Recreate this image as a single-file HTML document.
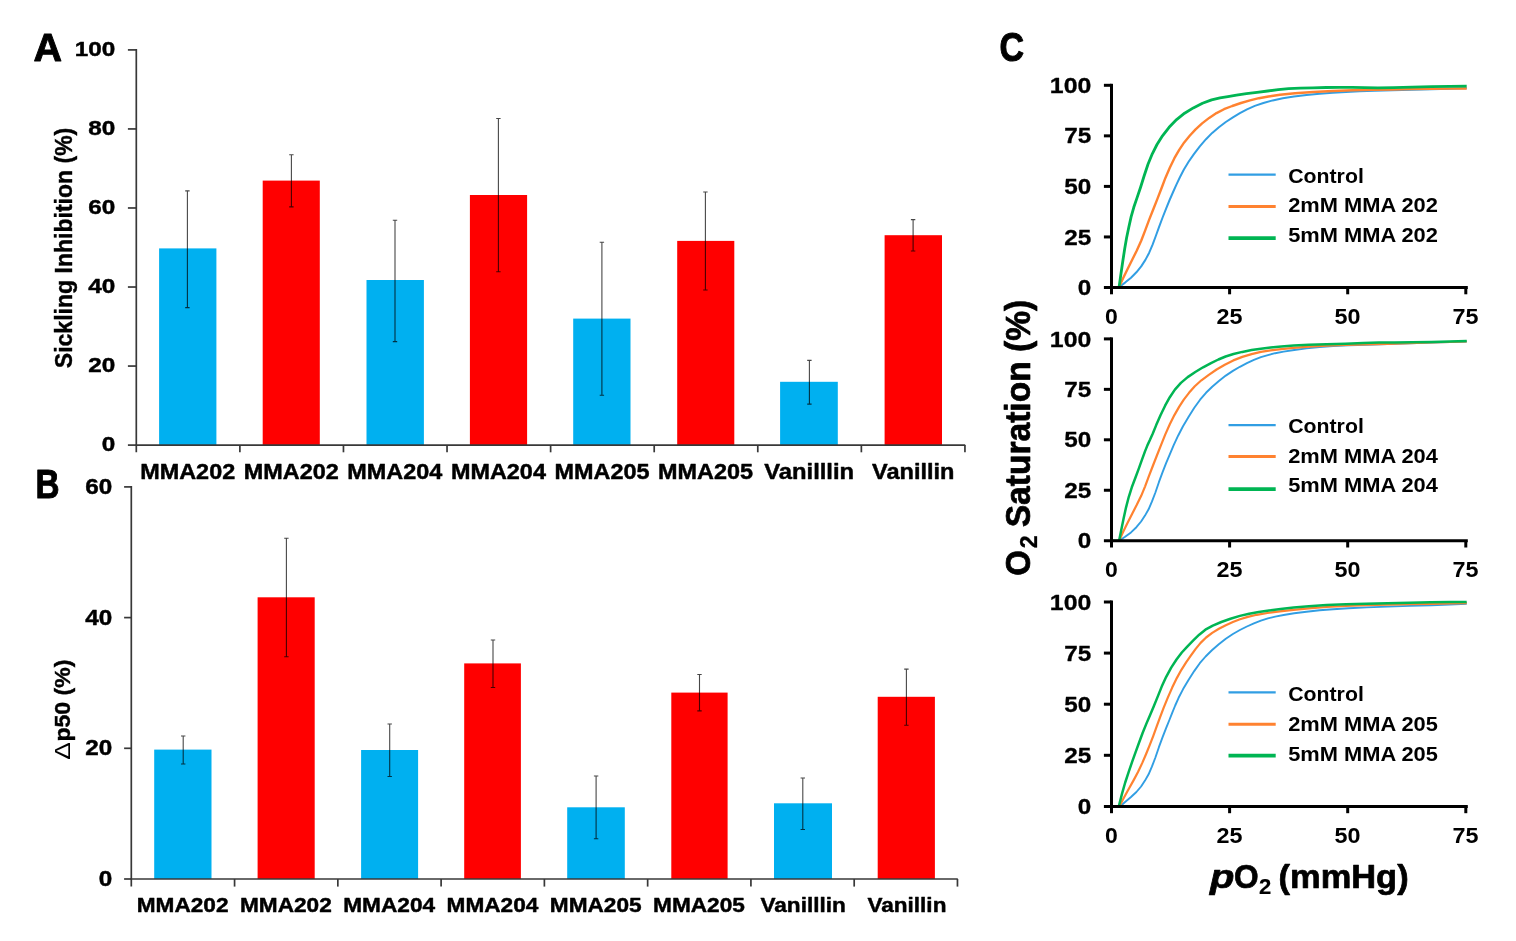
<!DOCTYPE html>
<html lang="en"><head><meta charset="utf-8"><title>Figure</title>
<style>html,body{margin:0;padding:0;background:#fff;overflow:hidden}body{width:1516px;height:941px;position:relative}</style></head>
<body>
<svg width="1516" height="941" viewBox="0 0 1516 941" font-family="Liberation Sans, Arial, Helvetica, sans-serif" style="display:block;position:absolute;left:0;top:0;filter:blur(0.45px)">
<rect width="1516" height="941" fill="#fff"/>
<rect x="159.1" y="248.4" width="57.30" height="196.70" fill="#00B0F0"/>
<rect x="262.7" y="180.6" width="57.10" height="264.50" fill="#FF0000"/>
<rect x="366.5" y="280.0" width="57.40" height="165.10" fill="#00B0F0"/>
<rect x="469.9" y="195.0" width="57.20" height="250.10" fill="#FF0000"/>
<rect x="573.2" y="318.6" width="57.30" height="126.50" fill="#00B0F0"/>
<rect x="677.2" y="240.9" width="57.10" height="204.20" fill="#FF0000"/>
<rect x="780.1" y="381.8" width="57.70" height="63.30" fill="#00B0F0"/>
<rect x="884.6" y="235.2" width="57.40" height="209.90" fill="#FF0000"/>
<g stroke="#383838" stroke-width="1.7" fill="none">
<path d="M136.3 49.05 V452.3"/>
<path d="M135.45000000000002 445.1 H965.2"/>
<path d="M239.88 445.1 V452.3"/>
<path d="M343.46 445.1 V452.3"/>
<path d="M447.04 445.1 V452.3"/>
<path d="M550.62 445.1 V452.3"/>
<path d="M654.20 445.1 V452.3"/>
<path d="M757.78 445.1 V452.3"/>
<path d="M861.36 445.1 V452.3"/>
<path d="M964.94 445.1 V452.3"/>
<path d="M127.9 445.1 H136.3"/>
<path d="M127.9 366.06 H136.3"/>
<path d="M127.9 287.02 H136.3"/>
<path d="M127.9 207.98 H136.3"/>
<path d="M127.9 128.94 H136.3"/>
<path d="M127.9 49.9 H136.3"/>
</g>
<g stroke="#000" stroke-opacity="0.72" stroke-width="1.1" fill="none">
<path d="M187.4 190.9 V307.6 M185.20000000000002 190.9 H189.6 M185.20000000000002 307.6 H189.6"/>
<path d="M291.4 154.8 V206.9 M289.2 154.8 H293.59999999999997 M289.2 206.9 H293.59999999999997"/>
<path d="M395.0 220.3 V341.6 M392.8 220.3 H397.2 M392.8 341.6 H397.2"/>
<path d="M498.4 118.5 V271.7 M496.2 118.5 H500.59999999999997 M496.2 271.7 H500.59999999999997"/>
<path d="M601.9 242.3 V395.3 M599.6999999999999 242.3 H604.1 M599.6999999999999 395.3 H604.1"/>
<path d="M705.4 192.0 V290.0 M703.1999999999999 192.0 H707.6 M703.1999999999999 290.0 H707.6"/>
<path d="M809.4 360.4 V404.1 M807.1999999999999 360.4 H811.6 M807.1999999999999 404.1 H811.6"/>
<path d="M913.1 219.6 V251.0 M910.9 219.6 H915.3000000000001 M910.9 251.0 H915.3000000000001"/>
</g>
<text x="115.3" y="451.3" font-size="21.0" font-weight="bold" text-anchor="end" fill="#000" textLength="13.5" lengthAdjust="spacingAndGlyphs" stroke="#000" stroke-width="0.45" stroke-linejoin="round" >0</text>
<text x="115.3" y="372.26" font-size="21.0" font-weight="bold" text-anchor="end" fill="#000" textLength="27" lengthAdjust="spacingAndGlyphs" stroke="#000" stroke-width="0.45" stroke-linejoin="round" >20</text>
<text x="115.3" y="293.22" font-size="21.0" font-weight="bold" text-anchor="end" fill="#000" textLength="27" lengthAdjust="spacingAndGlyphs" stroke="#000" stroke-width="0.45" stroke-linejoin="round" >40</text>
<text x="115.3" y="214.18" font-size="21.0" font-weight="bold" text-anchor="end" fill="#000" textLength="27" lengthAdjust="spacingAndGlyphs" stroke="#000" stroke-width="0.45" stroke-linejoin="round" >60</text>
<text x="115.3" y="135.14" font-size="21.0" font-weight="bold" text-anchor="end" fill="#000" textLength="27" lengthAdjust="spacingAndGlyphs" stroke="#000" stroke-width="0.45" stroke-linejoin="round" >80</text>
<text x="115.3" y="56.1" font-size="21.0" font-weight="bold" text-anchor="end" fill="#000" textLength="40.5" lengthAdjust="spacingAndGlyphs" stroke="#000" stroke-width="0.45" stroke-linejoin="round" >100</text>
<text x="187.69" y="478.7" font-size="21.3" font-weight="bold" text-anchor="middle" fill="#000" textLength="95" lengthAdjust="spacingAndGlyphs" stroke="#000" stroke-width="0.45" stroke-linejoin="round" >MMA202</text>
<text x="291.27" y="478.7" font-size="21.3" font-weight="bold" text-anchor="middle" fill="#000" textLength="95" lengthAdjust="spacingAndGlyphs" stroke="#000" stroke-width="0.45" stroke-linejoin="round" >MMA202</text>
<text x="394.85" y="478.7" font-size="21.3" font-weight="bold" text-anchor="middle" fill="#000" textLength="95" lengthAdjust="spacingAndGlyphs" stroke="#000" stroke-width="0.45" stroke-linejoin="round" >MMA204</text>
<text x="498.43" y="478.7" font-size="21.3" font-weight="bold" text-anchor="middle" fill="#000" textLength="95" lengthAdjust="spacingAndGlyphs" stroke="#000" stroke-width="0.45" stroke-linejoin="round" >MMA204</text>
<text x="602.01" y="478.7" font-size="21.3" font-weight="bold" text-anchor="middle" fill="#000" textLength="95" lengthAdjust="spacingAndGlyphs" stroke="#000" stroke-width="0.45" stroke-linejoin="round" >MMA205</text>
<text x="705.59" y="478.7" font-size="21.3" font-weight="bold" text-anchor="middle" fill="#000" textLength="95" lengthAdjust="spacingAndGlyphs" stroke="#000" stroke-width="0.45" stroke-linejoin="round" >MMA205</text>
<text x="809.17" y="478.7" font-size="21.3" font-weight="bold" text-anchor="middle" fill="#000" textLength="90" lengthAdjust="spacingAndGlyphs" stroke="#000" stroke-width="0.45" stroke-linejoin="round" >Vanilllin</text>
<text x="913.25" y="478.7" font-size="21.3" font-weight="bold" text-anchor="middle" fill="#000" textLength="82.4" lengthAdjust="spacingAndGlyphs" stroke="#000" stroke-width="0.45" stroke-linejoin="round" >Vanillin</text>
<rect x="154.2" y="749.6" width="57.30" height="129.40" fill="#00B0F0"/>
<rect x="257.6" y="597.3" width="57.10" height="281.70" fill="#FF0000"/>
<rect x="361.1" y="750.0" width="57.00" height="129.00" fill="#00B0F0"/>
<rect x="464.2" y="663.4" width="56.70" height="215.60" fill="#FF0000"/>
<rect x="567.2" y="807.3" width="57.60" height="71.70" fill="#00B0F0"/>
<rect x="671.3" y="692.6" width="56.30" height="186.40" fill="#FF0000"/>
<rect x="774.0" y="803.3" width="58.00" height="75.70" fill="#00B0F0"/>
<rect x="877.7" y="696.8" width="57.20" height="182.20" fill="#FF0000"/>
<g stroke="#383838" stroke-width="1.7" fill="none">
<path d="M131.3 486.04999999999995 V886.6"/>
<path d="M130.45000000000002 879.0 H957.8"/>
<path d="M234.57 879.0 V886.6"/>
<path d="M337.84 879.0 V886.6"/>
<path d="M441.11 879.0 V886.6"/>
<path d="M544.38 879.0 V886.6"/>
<path d="M647.65 879.0 V886.6"/>
<path d="M750.92 879.0 V886.6"/>
<path d="M854.19 879.0 V886.6"/>
<path d="M957.46 879.0 V886.6"/>
<path d="M124.10000000000001 879.0 H131.3"/>
<path d="M124.10000000000001 748.3 H131.3"/>
<path d="M124.10000000000001 617.6 H131.3"/>
<path d="M124.10000000000001 486.9 H131.3"/>
</g>
<g stroke="#000" stroke-opacity="0.72" stroke-width="1.1" fill="none">
<path d="M183.2 736.0 V764.0 M181.0 736.0 H185.39999999999998 M181.0 764.0 H185.39999999999998"/>
<path d="M286.4 538.3 V656.7 M284.2 538.3 H288.59999999999997 M284.2 656.7 H288.59999999999997"/>
<path d="M389.7 724.0 V776.5 M387.5 724.0 H391.9 M387.5 776.5 H391.9"/>
<path d="M493.0 640.0 V687.5 M490.8 640.0 H495.2 M490.8 687.5 H495.2"/>
<path d="M596.1 776.0 V838.7 M593.9 776.0 H598.3000000000001 M593.9 838.7 H598.3000000000001"/>
<path d="M699.5 674.5 V710.9 M697.3 674.5 H701.7 M697.3 710.9 H701.7"/>
<path d="M802.8 778.0 V829.5 M800.5999999999999 778.0 H805.0 M800.5999999999999 829.5 H805.0"/>
<path d="M906.4 669.1 V725.2 M904.1999999999999 669.1 H908.6 M904.1999999999999 725.2 H908.6"/>
</g>
<text x="112.2" y="886.0" font-size="21.3" font-weight="bold" text-anchor="end" fill="#000" textLength="13.5" lengthAdjust="spacingAndGlyphs" stroke="#000" stroke-width="0.45" stroke-linejoin="round" >0</text>
<text x="112.2" y="755.3" font-size="21.3" font-weight="bold" text-anchor="end" fill="#000" textLength="27" lengthAdjust="spacingAndGlyphs" stroke="#000" stroke-width="0.45" stroke-linejoin="round" >20</text>
<text x="112.2" y="624.6" font-size="21.3" font-weight="bold" text-anchor="end" fill="#000" textLength="27" lengthAdjust="spacingAndGlyphs" stroke="#000" stroke-width="0.45" stroke-linejoin="round" >40</text>
<text x="112.2" y="493.9" font-size="21.3" font-weight="bold" text-anchor="end" fill="#000" textLength="27" lengthAdjust="spacingAndGlyphs" stroke="#000" stroke-width="0.45" stroke-linejoin="round" >60</text>
<text x="182.63" y="912.2" font-size="20.2" font-weight="bold" text-anchor="middle" fill="#000" textLength="91.8" lengthAdjust="spacingAndGlyphs" stroke="#000" stroke-width="0.45" stroke-linejoin="round" >MMA202</text>
<text x="285.91" y="912.2" font-size="20.2" font-weight="bold" text-anchor="middle" fill="#000" textLength="91.8" lengthAdjust="spacingAndGlyphs" stroke="#000" stroke-width="0.45" stroke-linejoin="round" >MMA202</text>
<text x="389.18" y="912.2" font-size="20.2" font-weight="bold" text-anchor="middle" fill="#000" textLength="91.8" lengthAdjust="spacingAndGlyphs" stroke="#000" stroke-width="0.45" stroke-linejoin="round" >MMA204</text>
<text x="492.44" y="912.2" font-size="20.2" font-weight="bold" text-anchor="middle" fill="#000" textLength="91.8" lengthAdjust="spacingAndGlyphs" stroke="#000" stroke-width="0.45" stroke-linejoin="round" >MMA204</text>
<text x="595.72" y="912.2" font-size="20.2" font-weight="bold" text-anchor="middle" fill="#000" textLength="91.8" lengthAdjust="spacingAndGlyphs" stroke="#000" stroke-width="0.45" stroke-linejoin="round" >MMA205</text>
<text x="698.99" y="912.2" font-size="20.2" font-weight="bold" text-anchor="middle" fill="#000" textLength="91.8" lengthAdjust="spacingAndGlyphs" stroke="#000" stroke-width="0.45" stroke-linejoin="round" >MMA205</text>
<text x="803.16" y="912.2" font-size="20.2" font-weight="bold" text-anchor="middle" fill="#000" textLength="85.4" lengthAdjust="spacingAndGlyphs" stroke="#000" stroke-width="0.45" stroke-linejoin="round" >Vanilllin</text>
<text x="906.93" y="912.2" font-size="20.2" font-weight="bold" text-anchor="middle" fill="#000" textLength="79" lengthAdjust="spacingAndGlyphs" stroke="#000" stroke-width="0.45" stroke-linejoin="round" >Vanillin</text>
<text x="33.4" y="61.0" font-size="39.5" font-weight="bold" text-anchor="start" fill="#000" stroke="#000" stroke-width="0.9" stroke-linejoin="round" >A</text>
<text x="35.6" y="497.6" font-size="40" font-weight="bold" text-anchor="start" fill="#000" textLength="24.0" lengthAdjust="spacingAndGlyphs" stroke="#000" stroke-width="1.0" stroke-linejoin="round" >B</text>
<text x="999.4" y="61.4" font-size="40.5" font-weight="bold" text-anchor="start" fill="#000" textLength="24.6" lengthAdjust="spacingAndGlyphs" stroke="#000" stroke-width="1.0" stroke-linejoin="round" >C</text>
<text transform="translate(71.9,368.2) rotate(-90)" font-size="23" font-weight="bold" stroke="#000" stroke-width="0.4" textLength="240.5" lengthAdjust="spacingAndGlyphs">Sickling Inhibition (%)</text>
<text transform="translate(70.2,759.8) rotate(-90)" font-size="21.8" font-weight="normal" textLength="17.6" lengthAdjust="spacingAndGlyphs">Δ</text>
<text transform="translate(70.2,741.6) rotate(-90)" font-size="21.8" font-weight="bold" textLength="82" lengthAdjust="spacingAndGlyphs" stroke="#000" stroke-width="0.4">p50 (%)</text>
<path d="M1119.1 287.0 L1125.1 282.6 L1131.0 277.7 L1136.4 272.3 L1141.2 266.4 L1145.4 259.9 L1149.2 252.7 L1152.6 244.7 L1155.8 236.0 L1159.1 226.8 L1162.6 217.5 L1166.1 208.6 L1169.6 200.0 L1173.1 192.0 L1176.4 184.6 L1179.9 177.2 L1183.9 169.5 L1188.6 161.8 L1193.9 154.1 L1199.8 146.3 L1206.0 139.2 L1212.2 132.9 L1218.9 127.2 L1225.8 122.0 L1232.9 117.3 L1239.9 113.1 L1247.0 109.3 L1254.8 105.9 L1263.4 103.0 L1272.7 100.4 L1282.8 98.3 L1294.0 96.5 L1306.5 95.0 L1319.6 93.8 L1332.8 92.8 L1346.0 92.0 L1359.6 91.3 L1374.8 90.7 L1392.5 90.2 L1411.9 89.8 L1431.4 89.3 L1449.8 88.7 L1466.7 88.2" fill="none" stroke="#319EE3" stroke-width="2.0" stroke-linejoin="round"/>
<path d="M1119.1 287.0 L1123.2 278.0 L1127.6 268.9 L1132.2 259.8 L1136.8 250.5 L1141.2 240.7 L1145.1 230.6 L1149.0 220.1 L1153.3 209.3 L1157.5 198.6 L1161.5 188.3 L1165.4 177.9 L1169.8 167.7 L1174.4 158.2 L1179.2 149.8 L1184.2 142.4 L1189.7 135.8 L1195.6 129.4 L1202.1 123.4 L1209.2 117.9 L1216.5 113.1 L1224.0 109.2 L1232.2 106.0 L1241.0 103.0 L1250.0 100.4 L1258.9 98.2 L1268.4 96.5 L1280.0 94.8 L1295.1 93.3 L1313.2 92.0 L1332.8 91.0 L1352.6 90.3 L1372.3 89.8 L1392.1 89.5 L1411.9 89.1 L1431.4 88.8 L1449.8 88.6 L1466.7 88.5" fill="none" stroke="#FF8230" stroke-width="2.4" stroke-linejoin="round"/>
<path d="M1119.1 287.0 L1121.0 273.5 L1122.9 260.5 L1124.7 248.7 L1126.6 237.8 L1128.8 227.2 L1131.1 216.9 L1133.8 207.3 L1137.0 197.9 L1140.5 187.5 L1144.1 176.0 L1148.0 164.3 L1152.3 153.8 L1157.0 144.5 L1162.5 135.8 L1169.1 127.3 L1176.6 119.6 L1184.6 113.2 L1193.3 107.9 L1202.5 103.3 L1211.6 99.9 L1220.0 97.9 L1227.9 96.6 L1236.5 95.1 L1246.4 93.6 L1257.0 92.3 L1267.8 91.0 L1278.2 89.6 L1288.6 88.6 L1300.2 88.1 L1313.0 87.8 L1326.2 87.5 L1339.4 87.3 L1352.3 87.4 L1364.8 87.6 L1377.9 87.9 L1393.6 87.7 L1412.1 87.2 L1431.4 86.6 L1449.8 86.3 L1466.7 86.1" fill="none" stroke="#00B553" stroke-width="2.8" stroke-linejoin="round"/>
<g stroke="#000" stroke-width="3" fill="none">
<path d="M1111.5 83.8 V294.3"/>
<path d="M1103.9 287.5 H1467.8"/>
<path d="M1103.9 236.95 H1111.5"/>
<path d="M1103.9 186.40 H1111.5"/>
<path d="M1103.9 135.85 H1111.5"/>
<path d="M1103.9 85.30 H1111.5"/>
<path d="M1229.60 287.5 V294.3"/>
<path d="M1347.70 287.5 V294.3"/>
<path d="M1465.80 287.5 V294.3"/>
</g>
<text x="1091.3" y="295.10" font-size="22.2" font-weight="bold" text-anchor="end" fill="#000" textLength="13.5" lengthAdjust="spacingAndGlyphs" stroke="#000" stroke-width="0.3" stroke-linejoin="round" >0</text>
<text x="1091.3" y="244.55" font-size="22.2" font-weight="bold" text-anchor="end" fill="#000" textLength="27" lengthAdjust="spacingAndGlyphs" stroke="#000" stroke-width="0.3" stroke-linejoin="round" >25</text>
<text x="1091.3" y="194.00" font-size="22.2" font-weight="bold" text-anchor="end" fill="#000" textLength="27" lengthAdjust="spacingAndGlyphs" stroke="#000" stroke-width="0.3" stroke-linejoin="round" >50</text>
<text x="1091.3" y="143.45" font-size="22.2" font-weight="bold" text-anchor="end" fill="#000" textLength="27" lengthAdjust="spacingAndGlyphs" stroke="#000" stroke-width="0.3" stroke-linejoin="round" >75</text>
<text x="1091.3" y="92.90" font-size="22.2" font-weight="bold" text-anchor="end" fill="#000" textLength="41.5" lengthAdjust="spacingAndGlyphs" stroke="#000" stroke-width="0.3" stroke-linejoin="round" >100</text>
<text x="1111.30" y="324.10" font-size="22.2" font-weight="bold" text-anchor="middle" fill="#000" textLength="12.8" lengthAdjust="spacingAndGlyphs" >0</text>
<text x="1229.40" y="324.10" font-size="22.2" font-weight="bold" text-anchor="middle" fill="#000" textLength="26" lengthAdjust="spacingAndGlyphs" >25</text>
<text x="1347.50" y="324.10" font-size="22.2" font-weight="bold" text-anchor="middle" fill="#000" textLength="26" lengthAdjust="spacingAndGlyphs" >50</text>
<text x="1465.60" y="324.10" font-size="22.2" font-weight="bold" text-anchor="middle" fill="#000" textLength="26" lengthAdjust="spacingAndGlyphs" >75</text>
<path d="M1228.5 174.6 H1275.7" stroke="#319EE3" stroke-width="2.3"/>
<text x="1288.2" y="182.6" font-size="20.4" font-weight="bold" text-anchor="start" fill="#000" textLength="75.6" lengthAdjust="spacingAndGlyphs" >Control</text>
<path d="M1228.5 206.5 H1275.7" stroke="#FF8230" stroke-width="3.0"/>
<text x="1288.2" y="212.1" font-size="20.4" font-weight="bold" text-anchor="start" fill="#000" textLength="149.7" lengthAdjust="spacingAndGlyphs" >2mM MMA 202</text>
<path d="M1228.5 238.2 H1275.7" stroke="#00B553" stroke-width="3.8"/>
<text x="1288.2" y="241.8" font-size="20.4" font-weight="bold" text-anchor="start" fill="#000" textLength="149.7" lengthAdjust="spacingAndGlyphs" >5mM MMA 202</text>
<path d="M1119.1 540.8 L1125.1 536.8 L1131.0 532.4 L1136.4 527.2 L1141.1 521.5 L1145.0 515.6 L1148.6 509.3 L1151.9 501.7 L1155.4 492.5 L1158.9 482.2 L1162.6 472.2 L1166.1 463.2 L1169.8 454.4 L1173.7 445.2 L1178.1 435.7 L1183.0 426.2 L1188.5 416.9 L1194.3 407.8 L1200.1 399.7 L1206.0 392.8 L1212.2 386.7 L1218.9 381.0 L1225.8 375.6 L1232.9 370.9 L1239.9 366.8 L1246.9 363.2 L1253.9 359.9 L1260.9 357.2 L1267.9 355.1 L1275.2 353.2 L1283.6 351.6 L1294.2 350.0 L1306.5 348.4 L1319.6 347.0 L1333.2 346.0 L1348.5 345.4 L1366.6 344.7 L1387.6 344.0 L1409.8 343.3 L1431.0 342.6 L1449.8 342.0 L1466.7 341.5" fill="none" stroke="#319EE3" stroke-width="1.9" stroke-linejoin="round"/>
<path d="M1119.1 540.8 L1123.2 531.8 L1127.6 522.8 L1132.2 513.7 L1136.8 504.8 L1141.2 495.8 L1145.1 486.3 L1148.8 476.4 L1152.8 466.0 L1156.9 455.5 L1161.1 444.9 L1165.3 434.4 L1169.8 424.3 L1174.4 415.1 L1179.1 406.9 L1183.8 399.6 L1189.0 392.8 L1194.8 386.3 L1201.4 380.3 L1208.8 374.8 L1216.6 369.5 L1224.8 364.7 L1233.3 360.4 L1242.3 356.9 L1251.6 354.1 L1260.9 351.9 L1270.6 350.4 L1281.3 349.1 L1293.8 347.8 L1308.9 346.6 L1326.6 345.7 L1346.0 345.0 L1366.2 344.4 L1387.6 343.8 L1409.8 343.1 L1431.0 342.5 L1449.8 342.0 L1466.7 341.5" fill="none" stroke="#FF8230" stroke-width="2.2" stroke-linejoin="round"/>
<path d="M1111.8 540.8 L1119.1 540.8 L1121.2 530.2 L1123.5 519.1 L1126.0 507.6 L1128.8 496.8 L1131.8 487.3 L1135.2 478.3 L1138.6 469.1 L1141.9 459.9 L1144.9 451.6 L1147.5 445.1 L1150.0 439.8 L1152.8 433.5 L1156.2 425.1 L1160.5 415.3 L1165.1 405.7 L1169.8 397.2 L1174.9 389.6 L1180.9 382.9 L1187.7 377.1 L1195.3 372.0 L1203.1 367.3 L1211.0 363.1 L1218.4 359.5 L1225.6 356.5 L1233.5 354.0 L1242.3 351.9 L1251.6 350.1 L1260.9 348.8 L1270.6 347.6 L1281.3 346.5 L1293.8 345.5 L1308.9 344.7 L1326.6 344.3 L1345.6 343.8 L1363.3 343.1 L1378.9 342.6 L1394.6 342.4 L1412.3 342.2 L1431.4 341.9 L1449.8 341.5 L1466.7 341.1" fill="none" stroke="#00B553" stroke-width="2.5" stroke-linejoin="round"/>
<g stroke="#000" stroke-width="3" fill="none">
<path d="M1111.5 337.4 V547.5"/>
<path d="M1103.9 540.7 H1467.8"/>
<path d="M1103.9 490.25 H1111.5"/>
<path d="M1103.9 439.80 H1111.5"/>
<path d="M1103.9 389.35 H1111.5"/>
<path d="M1103.9 338.90 H1111.5"/>
<path d="M1229.60 540.7 V547.5"/>
<path d="M1347.70 540.7 V547.5"/>
<path d="M1465.80 540.7 V547.5"/>
</g>
<text x="1091.3" y="548.30" font-size="22.2" font-weight="bold" text-anchor="end" fill="#000" textLength="13.5" lengthAdjust="spacingAndGlyphs" stroke="#000" stroke-width="0.3" stroke-linejoin="round" >0</text>
<text x="1091.3" y="497.85" font-size="22.2" font-weight="bold" text-anchor="end" fill="#000" textLength="27" lengthAdjust="spacingAndGlyphs" stroke="#000" stroke-width="0.3" stroke-linejoin="round" >25</text>
<text x="1091.3" y="447.40" font-size="22.2" font-weight="bold" text-anchor="end" fill="#000" textLength="27" lengthAdjust="spacingAndGlyphs" stroke="#000" stroke-width="0.3" stroke-linejoin="round" >50</text>
<text x="1091.3" y="396.95" font-size="22.2" font-weight="bold" text-anchor="end" fill="#000" textLength="27" lengthAdjust="spacingAndGlyphs" stroke="#000" stroke-width="0.3" stroke-linejoin="round" >75</text>
<text x="1091.3" y="346.50" font-size="22.2" font-weight="bold" text-anchor="end" fill="#000" textLength="41.5" lengthAdjust="spacingAndGlyphs" stroke="#000" stroke-width="0.3" stroke-linejoin="round" >100</text>
<text x="1111.30" y="577.30" font-size="22.2" font-weight="bold" text-anchor="middle" fill="#000" textLength="12.8" lengthAdjust="spacingAndGlyphs" >0</text>
<text x="1229.40" y="577.30" font-size="22.2" font-weight="bold" text-anchor="middle" fill="#000" textLength="26" lengthAdjust="spacingAndGlyphs" >25</text>
<text x="1347.50" y="577.30" font-size="22.2" font-weight="bold" text-anchor="middle" fill="#000" textLength="26" lengthAdjust="spacingAndGlyphs" >50</text>
<text x="1465.60" y="577.30" font-size="22.2" font-weight="bold" text-anchor="middle" fill="#000" textLength="26" lengthAdjust="spacingAndGlyphs" >75</text>
<path d="M1228.5 425.2 H1275.7" stroke="#319EE3" stroke-width="2.3"/>
<text x="1288.2" y="432.6" font-size="20.4" font-weight="bold" text-anchor="start" fill="#000" textLength="75.6" lengthAdjust="spacingAndGlyphs" >Control</text>
<path d="M1228.5 456.6 H1275.7" stroke="#FF8230" stroke-width="3.0"/>
<text x="1288.2" y="462.6" font-size="20.4" font-weight="bold" text-anchor="start" fill="#000" textLength="149.7" lengthAdjust="spacingAndGlyphs" >2mM MMA 204</text>
<path d="M1228.5 489.2 H1275.7" stroke="#00B553" stroke-width="3.8"/>
<text x="1288.2" y="492.3" font-size="20.4" font-weight="bold" text-anchor="start" fill="#000" textLength="149.7" lengthAdjust="spacingAndGlyphs" >5mM MMA 204</text>
<path d="M1119.9 806.4 L1125.4 801.8 L1131.0 797.0 L1136.4 792.0 L1141.1 786.5 L1145.0 780.6 L1148.6 774.3 L1151.9 766.7 L1155.4 757.5 L1158.9 747.2 L1162.6 737.2 L1166.1 728.2 L1169.4 720.0 L1172.3 712.6 L1175.2 705.5 L1178.6 697.8 L1183.1 689.1 L1188.5 679.9 L1194.2 671.1 L1199.8 663.2 L1205.6 656.5 L1211.9 650.3 L1218.8 644.2 L1225.8 638.7 L1232.9 634.0 L1239.9 630.0 L1246.9 626.5 L1253.9 623.4 L1260.9 620.6 L1267.9 618.4 L1275.2 616.6 L1283.6 615.0 L1294.2 613.3 L1306.5 611.7 L1319.6 610.3 L1333.2 609.2 L1348.5 608.3 L1366.6 607.4 L1387.6 606.6 L1409.8 605.9 L1431.0 605.2 L1449.8 604.5 L1466.7 603.8" fill="none" stroke="#319EE3" stroke-width="1.9" stroke-linejoin="round"/>
<path d="M1119.4 806.4 L1124.0 797.5 L1128.7 789.0 L1133.4 780.6 L1138.0 772.0 L1142.3 762.9 L1146.2 753.7 L1149.8 744.9 L1153.3 735.8 L1156.8 726.1 L1160.3 716.6 L1163.8 707.3 L1167.8 697.6 L1172.2 687.6 L1176.8 678.1 L1181.4 669.8 L1186.1 662.4 L1190.8 655.6 L1195.5 649.1 L1200.6 642.9 L1206.1 637.5 L1212.2 632.9 L1218.9 628.8 L1225.8 625.2 L1232.9 622.0 L1240.0 619.3 L1247.8 616.9 L1256.7 614.8 L1267.4 613.0 L1279.9 611.4 L1293.5 609.8 L1308.9 608.3 L1326.6 607.0 L1346.0 606.0 L1366.2 605.2 L1387.6 604.6 L1409.8 604.1 L1431.0 603.8 L1449.8 603.5 L1466.7 603.2" fill="none" stroke="#FF8230" stroke-width="2.2" stroke-linejoin="round"/>
<path d="M1118.8 806.4 L1121.9 794.1 L1125.2 782.5 L1128.7 771.8 L1132.2 761.7 L1135.7 751.8 L1139.2 742.2 L1142.7 732.8 L1146.3 723.9 L1150.0 715.3 L1153.8 706.3 L1157.7 696.6 L1161.7 686.6 L1166.2 676.8 L1171.2 667.6 L1176.5 659.5 L1181.8 652.5 L1187.5 646.3 L1193.3 640.4 L1199.2 634.7 L1205.4 629.7 L1212.8 625.6 L1221.3 622.0 L1230.5 618.8 L1239.9 615.9 L1249.2 613.8 L1258.7 612.1 L1269.0 610.6 L1280.6 609.1 L1293.7 607.6 L1308.9 606.3 L1326.6 605.1 L1346.0 604.2 L1366.2 603.7 L1387.6 603.2 L1409.8 602.7 L1431.0 602.2 L1449.8 602.0 L1466.7 601.9" fill="none" stroke="#00B553" stroke-width="2.5" stroke-linejoin="round"/>
<g stroke="#000" stroke-width="3" fill="none">
<path d="M1111.5 600.5 V813.1999999999999"/>
<path d="M1103.9 806.4 H1467.8"/>
<path d="M1103.9 755.30 H1111.5"/>
<path d="M1103.9 704.20 H1111.5"/>
<path d="M1103.9 653.10 H1111.5"/>
<path d="M1103.9 602.00 H1111.5"/>
<path d="M1229.60 806.4 V813.1999999999999"/>
<path d="M1347.70 806.4 V813.1999999999999"/>
<path d="M1465.80 806.4 V813.1999999999999"/>
</g>
<text x="1091.3" y="814.00" font-size="22.2" font-weight="bold" text-anchor="end" fill="#000" textLength="13.5" lengthAdjust="spacingAndGlyphs" stroke="#000" stroke-width="0.3" stroke-linejoin="round" >0</text>
<text x="1091.3" y="762.90" font-size="22.2" font-weight="bold" text-anchor="end" fill="#000" textLength="27" lengthAdjust="spacingAndGlyphs" stroke="#000" stroke-width="0.3" stroke-linejoin="round" >25</text>
<text x="1091.3" y="711.80" font-size="22.2" font-weight="bold" text-anchor="end" fill="#000" textLength="27" lengthAdjust="spacingAndGlyphs" stroke="#000" stroke-width="0.3" stroke-linejoin="round" >50</text>
<text x="1091.3" y="660.70" font-size="22.2" font-weight="bold" text-anchor="end" fill="#000" textLength="27" lengthAdjust="spacingAndGlyphs" stroke="#000" stroke-width="0.3" stroke-linejoin="round" >75</text>
<text x="1091.3" y="609.60" font-size="22.2" font-weight="bold" text-anchor="end" fill="#000" textLength="41.5" lengthAdjust="spacingAndGlyphs" stroke="#000" stroke-width="0.3" stroke-linejoin="round" >100</text>
<text x="1111.30" y="843.00" font-size="22.2" font-weight="bold" text-anchor="middle" fill="#000" textLength="12.8" lengthAdjust="spacingAndGlyphs" >0</text>
<text x="1229.40" y="843.00" font-size="22.2" font-weight="bold" text-anchor="middle" fill="#000" textLength="26" lengthAdjust="spacingAndGlyphs" >25</text>
<text x="1347.50" y="843.00" font-size="22.2" font-weight="bold" text-anchor="middle" fill="#000" textLength="26" lengthAdjust="spacingAndGlyphs" >50</text>
<text x="1465.60" y="843.00" font-size="22.2" font-weight="bold" text-anchor="middle" fill="#000" textLength="26" lengthAdjust="spacingAndGlyphs" >75</text>
<path d="M1228.5 692.4 H1275.7" stroke="#319EE3" stroke-width="2.3"/>
<text x="1288.2" y="701.0" font-size="20.4" font-weight="bold" text-anchor="start" fill="#000" textLength="75.6" lengthAdjust="spacingAndGlyphs" >Control</text>
<path d="M1228.5 724.2 H1275.7" stroke="#FF8230" stroke-width="3.0"/>
<text x="1288.2" y="731.0" font-size="20.4" font-weight="bold" text-anchor="start" fill="#000" textLength="149.7" lengthAdjust="spacingAndGlyphs" >2mM MMA 205</text>
<path d="M1228.5 755.6 H1275.7" stroke="#00B553" stroke-width="3.8"/>
<text x="1288.2" y="760.5" font-size="20.4" font-weight="bold" text-anchor="start" fill="#000" textLength="149.7" lengthAdjust="spacingAndGlyphs" >5mM MMA 205</text>
<text transform="translate(1030.0,575.7) rotate(-90)" font-size="35.5" font-weight="bold" textLength="25.6" lengthAdjust="spacingAndGlyphs" stroke="#000" stroke-width="0.7" stroke-linejoin="round">O</text>
<text transform="translate(1037.2,548.3) rotate(-90)" font-size="23.2" font-weight="bold" stroke="#000" stroke-width="0.3">2</text>
<text transform="translate(1030.0,527.3) rotate(-90)" font-size="35.5" font-weight="bold" textLength="227.5" lengthAdjust="spacingAndGlyphs" stroke="#000" stroke-width="0.7" stroke-linejoin="round">Saturation (%)</text>
<text x="1209.9" y="887.7" font-size="33" font-weight="bold" font-style="italic" textLength="24.4" lengthAdjust="spacingAndGlyphs" stroke="#000" stroke-width="0.7" stroke-linejoin="round">p</text>
<text x="1233.9" y="887.7" font-size="33" font-weight="bold" textLength="24.6" lengthAdjust="spacingAndGlyphs" stroke="#000" stroke-width="0.7" stroke-linejoin="round">O</text>
<text x="1259.0" y="894.2" font-size="22" font-weight="bold" stroke="#000" stroke-width="0.2">2</text>
<text x="1278.6" y="887.7" font-size="33" font-weight="bold" textLength="130" lengthAdjust="spacingAndGlyphs" stroke="#000" stroke-width="0.7" stroke-linejoin="round">(mmHg)</text>
</svg>
</body></html>
